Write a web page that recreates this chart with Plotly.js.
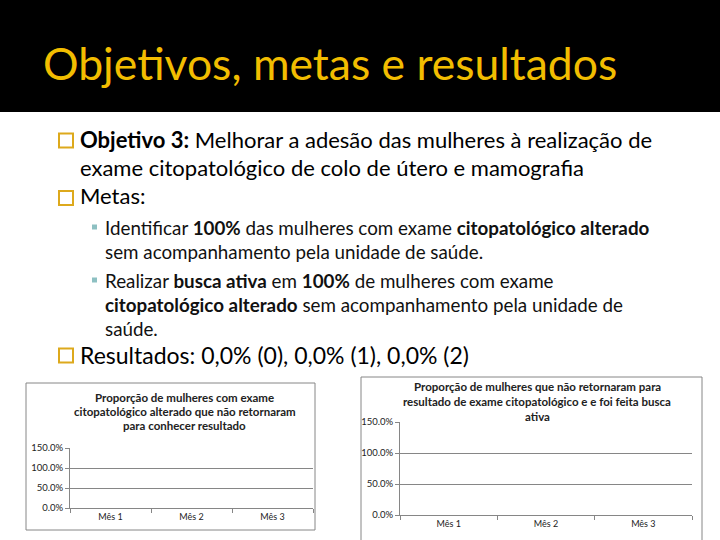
<!DOCTYPE html>
<html>
<head>
<meta charset="utf-8">
<script src="https://cdn.plot.ly/plotly-3.0.1.min.js"></script>
<style>
html,body{margin:0;padding:0;background:#fff;}
#chart{width:720px;height:540px;}
</style>
</head>
<body>
<div id="chart"></div>
<script>
// ---- data ----
const meses = ['Mês 1', 'Mês 2', 'Mês 3'];
const propNaoRetornaram = [0, 0, 0];
const propBuscaAtiva = [0, 0, 0];
const yTickVals = [0, 0.5, 1.0, 1.5];
const yTickText = ['0.0%', '50.0%', '100.0%', '150.0%'];
const chart1Title = ['Proporção de mulheres com exame', 'citopatológico alterado que não retornaram', 'para conhecer resultado'];
const chart2Title = ['Proporção de mulheres que não retornaram para', 'resultado de exame citopatológico e e foi feita busca', 'ativa'];
const slideTitle = 'Objetivos, metas e resultados';
const resultados = 'Resultados: 0,0% (0), 0,0% (1), 0,0% (2)';

// ---- helpers for layout (pixel -> paper) ----
const W = 720, H = 540;
const fx = x => x / W;
const fy = y => 1 - y / H;

const FONT = 'Lato, "Open Sans", sans-serif';
const GOLD = '#F2BD00';
const AX = '#868686';
const MAIN = 22;
const SUB = 18.8;
const CT = 11.5;

const traces = [
  {type: 'bar', x: meses, y: propNaoRetornaram, xaxis: 'x', yaxis: 'y', marker: {color: '#4F81BD'}, showlegend: false, hoverinfo: 'skip'},
  {type: 'bar', x: meses, y: propBuscaAtiva, xaxis: 'x2', yaxis: 'y2', marker: {color: '#4F81BD'}, showlegend: false, hoverinfo: 'skip'}
];

function xAxis(domain, anchor) {
  return {
    domain: domain, anchor: anchor, type: 'category', categoryorder: 'array', categoryarray: meses,
    range: [-0.5, 2.5], showline: true, linecolor: AX, linewidth: 1,
    ticks: 'outside', tickson: 'boundaries', ticklen: 4, tickcolor: AX, tickwidth: 1,
    showgrid: false, zeroline: false,
    tickfont: {family: FONT, size: 9, color: '#222'}, fixedrange: true
  };
}
function yAxis(domain, anchor) {
  return {
    domain: domain, anchor: anchor, range: [0, 1.5],
    tickvals: yTickVals, ticktext: yTickText,
    showline: true, linecolor: AX, linewidth: 1,
    ticks: 'outside', ticklen: 4, tickcolor: AX, tickwidth: 1,
    showgrid: true, gridcolor: AX, gridwidth: 1, zeroline: false,
    tickfont: {family: FONT, size: 9.5, color: '#222'}, fixedrange: true
  };
}

const shapes = [
  // black header band
  {type: 'rect', xref: 'paper', yref: 'paper', x0: 0, x1: 1, y0: fy(112), y1: 1, fillcolor: '#000', line: {width: 0}, layer: 'below'},
  // chart frames
  {type: 'rect', xref: 'paper', yref: 'paper', x0: fx(26), x1: fx(315), y0: fy(530), y1: fy(383), line: {color: AX, width: 1}, fillcolor: 'rgba(0,0,0,0)'},
  {type: 'rect', xref: 'paper', yref: 'paper', x0: fx(361), x1: fx(702), y0: fy(560), y1: fy(377), line: {color: AX, width: 1}, fillcolor: 'rgba(0,0,0,0)'}
];
// gold hollow bullets
[140.5, 198, 355.5].forEach(cy => {
  shapes.push({type: 'rect', xref: 'paper', yref: 'paper', x0: fx(59), x1: fx(73), y0: fy(cy + 7), y1: fy(cy - 7), line: {color: '#DDA91C', width: 2}, fillcolor: 'rgba(0,0,0,0)'});
});
// small teal sub-bullets
[227, 280].forEach(cy => {
  shapes.push({type: 'rect', xref: 'paper', yref: 'paper', x0: fx(92), x1: fx(97), y0: fy(cy + 2.5), y1: fy(cy - 2.5), fillcolor: '#8DC0C2', line: {width: 0}});
});

const annotations = [];
function txt(text, x, y, size, color, opts) {
  annotations.push(Object.assign({
    xref: 'paper', yref: 'paper', x: fx(x), y: fy(y), xanchor: 'left', yanchor: 'middle',
    text: text, showarrow: false, font: {family: FONT, size: size, color: color || '#000'}
  }, opts || {}));
}
txt(slideTitle, 41, 62, 44.5, GOLD);
txt('<b>Objetivo 3:</b> Melhorar a adesão das mulheres à realização de', 78, 139, MAIN);
txt('exame citopatológico de colo de útero e mamografia', 78, 167, MAIN);
txt('Metas:', 78, 195, MAIN);
txt('Identificar <b>100%</b> das mulheres com exame <b>citopatológico alterado</b>', 103, 227, SUB, '#111');
txt('sem acompanhamento pela unidade de saúde.', 103, 251, SUB, '#111');
txt('Realizar <b>busca ativa</b> em <b>100%</b> de mulheres com exame', 103, 280, SUB, '#111');
txt('<b>citopatológico alterado</b> sem acompanhamento pela unidade de', 103, 304, SUB, '#111');
txt('saúde.', 103, 328, SUB, '#111');
txt(resultados, 78, 355, 23);

// chart titles
chart1Title.forEach((line, i) => {
  txt('<b>' + line + '</b>', 185, 397 + i * 14, CT, '#222', {xanchor: 'center'});
});
chart2Title.forEach((line, i) => {
  txt('<b>' + line + '</b>', 537, 386 + i * 15, CT, '#222', {xanchor: 'center'});
});

const layout = {
  width: W, height: H, margin: {l: 0, r: 0, t: 0, b: 0},
  paper_bgcolor: '#fff', plot_bgcolor: 'rgba(0,0,0,0)',
  showlegend: false, bargap: 0.4,
  xaxis: xAxis([fx(70), fx(313)], 'y'),
  yaxis: yAxis([fy(508), fy(448)], 'x'),
  xaxis2: xAxis([fx(400), fx(692)], 'y2'),
  yaxis2: yAxis([fy(515), fy(422)], 'x2'),
  shapes: shapes, annotations: annotations
};

Plotly.newPlot('chart', traces, layout, {staticPlot: true, displayModeBar: false});
</script>
</body>
</html>
